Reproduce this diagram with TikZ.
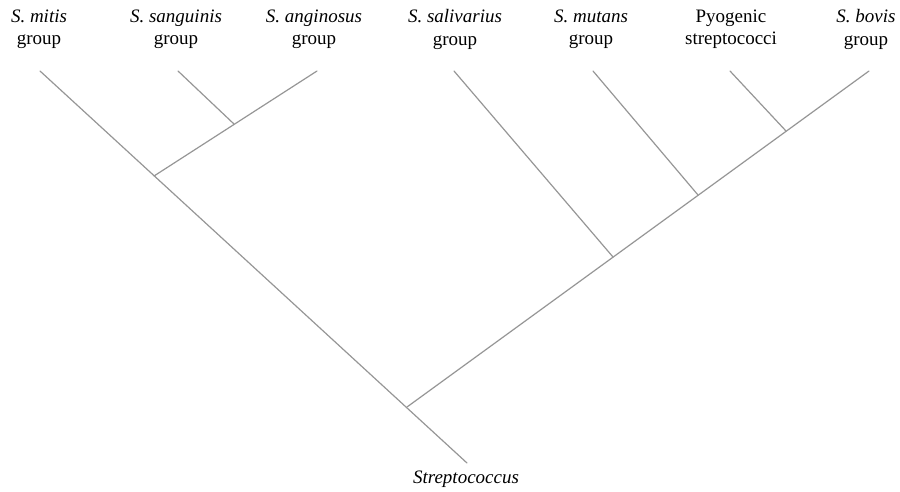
\documentclass[tikz,border=0pt]{standalone}
\usepackage{fontspec}
\setmainfont{Liberation Serif}
\usetikzlibrary{positioning}
\definecolor{treegray}{RGB}{150,150,150}
\tikzset{
  branch/.style={draw=treegray, line width=1.2pt, line cap=round},
  taxon/.style={align=center, inner sep=0pt, anchor=north,
    execute at begin node=\strut}
}
\begin{document}
\begin{tikzpicture}[x=1pt,y=-1pt]
\fontsize{19}{22.5}\selectfont
\useasboundingbox (0,0) rectangle (900,491);
% leaf tips
\coordinate (mitis) at (40,71);
\coordinate (sang) at (178,71);
\coordinate (angi) at (317,71);
\coordinate (saliv) at (454,71);
\coordinate (mutans) at (593,71);
\coordinate (pyo) at (730,71);
\coordinate (bovis) at (869,71);
% inner nodes
\coordinate (sa) at (234,124);
\coordinate (msa) at (154,176);
\coordinate (top) at (407,407);
\coordinate (root) at (467,463);
\coordinate (sv) at (613,257);
\coordinate (mu) at (698,195);
\coordinate (pb) at (786,131);
% labels
\node[taxon] (lmitis) at (39,9.5) {\textit{S.~mitis}\\group};
\node[taxon] (lsang) at (176,9.5) {\textit{S.~sanguinis}\\group};
\node[taxon] (langi) at (314,9.5) {\textit{S.~anginosus}\\group};
\node[taxon] (lsaliv) at (455,9.5) {\textit{S.~salivarius}\\group};
\node[taxon] (lmutans) at (591,9.5) {\textit{S.~mutans}\\group};
\node[taxon] (lpyo) at (731,9.5) {Pyogenic\\streptococci};
\node[taxon] (lbovis) at (866,9.5) {\textit{S.~bovis}\\group};
\node[taxon] (lroot) at (466,468) {\textit{Streptococcus}};
% branches
\path[branch] (mitis) -- (root);
\path[branch] (top) -- (bovis);
\path[branch] (msa) -- (angi);
\path[branch] (sang) -- (sa);
\path[branch] (saliv) -- (sv);
\path[branch] (mutans) -- (mu);
\path[branch] (pyo) -- (pb);
\end{tikzpicture}
\end{document}
